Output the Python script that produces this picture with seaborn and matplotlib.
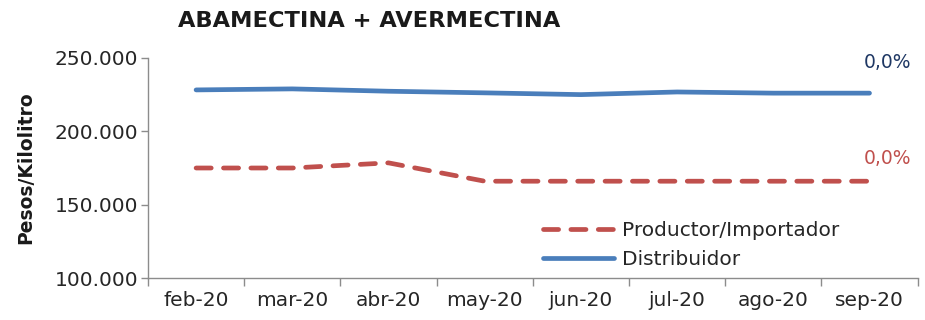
import seaborn as sns
import matplotlib.pyplot as plt
import matplotlib.ticker as mticker
import pandas as pd

meses = ["feb-20", "mar-20", "abr-20", "may-20", "jun-20", "jul-20", "ago-20", "sep-20"]
productor = [175000, 175000, 178500, 166000, 166000, 166000, 166000, 166000]
distribuidor = [228200, 228900, 227300, 226200, 225000, 226800, 226000, 226000]
var_prod = "0,0%"
var_dist = "0,0%"

sns.set_style("white")
plt.rcParams["font.family"] = ["DejaVu Sans"]

df = pd.DataFrame({
    "x": list(range(len(meses))) * 2,
    "valor": productor + distribuidor,
    "serie": ["Productor/Importador"] * len(meses) + ["Distribuidor"] * len(meses),
})

fig = plt.figure(figsize=(9.25, 3.2), dpi=100)
ax = fig.add_axes([0.16, 0.131, 0.832, 0.688])

sns.lineplot(data=df, x="x", y="valor", hue="serie", style="serie",
             palette={"Productor/Importador": "#C0504D", "Distribuidor": "#4A7EBB"},
             dashes={"Productor/Importador": (3.2, 2.6), "Distribuidor": ""},
             linewidth=3.4, ax=ax)
for ln in ax.get_lines():
    ln.set_solid_capstyle("round")
    ln.set_dash_capstyle("round")

ax.set_xlim(-0.5, len(meses) - 0.5)
ax.set_ylim(100000, 250000)
ax.set_xticks(range(len(meses)))
ax.set_xticklabels(meses)
ax.set_xticks([i - 0.5 for i in range(len(meses) + 1)], minor=True)
ax.tick_params(axis="x", which="major", bottom=True, length=0, pad=9, labelsize=14.5, colors="#262626")
ax.tick_params(axis="x", which="minor", bottom=True, length=6, color="#8c8c8c", width=1)
ax.set_yticks([100000, 150000, 200000, 250000])
ax.yaxis.set_major_formatter(mticker.FuncFormatter(lambda v, p: f"{v:,.0f}".replace(",", ".")))
ax.tick_params(axis="y", left=True, length=5, color="#8c8c8c", width=1, labelsize=14.5,
               labelcolor="#262626", pad=2)

for s in ["top", "right"]:
    ax.spines[s].set_visible(False)
for s in ["left", "bottom"]:
    ax.spines[s].set_color("#8c8c8c")
    ax.spines[s].set_linewidth(1)

ax.set_xlabel("")
ax.set_ylabel("Pesos/Kilolitro", fontsize=13.5, fontweight="bold", color="#1a1a1a", labelpad=14)

ax.text(len(meses) - 1 + 0.19, distribuidor[-1] + 20600, var_dist, color="#1F3864",
        fontsize=13.5, ha="center", va="center")
ax.text(len(meses) - 1 + 0.19, productor[-1] + 15800, var_prod, color="#C0504D",
        fontsize=13.5, ha="center", va="center")

handles, labels = ax.get_legend_handles_labels()
ax.legend(handles=handles, labels=labels, loc="lower left", bbox_to_anchor=(0.49, -0.04),
          frameon=False, fontsize=14.5, handlelength=3.5, handletextpad=0.4,
          labelspacing=0.5, labelcolor="#262626")

fig.text(0.192, 0.935, "ABAMECTINA + AVERMECTINA", fontsize=16.2, fontweight="bold",
         color="#1a1a1a", va="center")

fig.savefig("out.png", dpi=100)
